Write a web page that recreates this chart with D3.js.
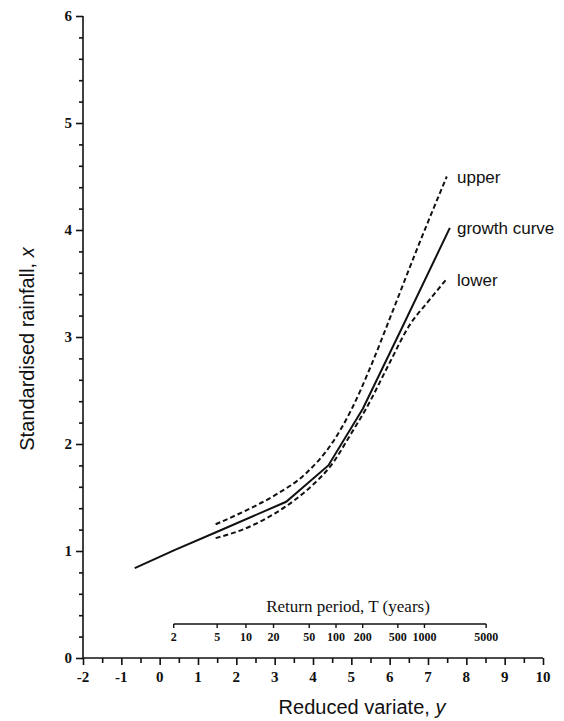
<!DOCTYPE html>
<html lang="en">
<head>
    <meta charset="UTF-8">
    <title>Rainfall growth curve</title>
    <script src="https://d3js.org/d3.v7.min.js"></script>
    <style>
        body { margin: 0; background: #ffffff; }
        svg { display: block; }
        .tick-lab { font-family: 'Liberation Serif', serif; font-weight: bold; font-size: 15px; fill: #111; }
        .rp-lab { font-family: 'Liberation Serif', serif; font-weight: bold; font-size: 12px; fill: #111; }
        .sans { font-family: 'Liberation Sans', Arial, sans-serif; fill: #111; }
    </style>
</head>
<body>
<div id="chart"></div>
<script>
    // reduced variate (x) and standardised rainfall values
    const growthY = [-0.65, 0.4, 1.5, 3.3, 4.4, 5.3, 6.3, 7.57];
    const growthX = [0.84, 1.01, 1.18, 1.46, 1.80, 2.33, 3.07, 4.02];

    const upperY = [1.46, 2.2, 3.0, 3.8, 4.5, 5.0, 5.5, 6.0, 6.7, 7.49];
    const upperX = [1.25, 1.37, 1.52, 1.72, 2.01, 2.32, 2.72, 3.17, 3.81, 4.50];

    const lowerY = [1.46, 2.3, 3.0, 3.5, 4.0, 4.45, 5.0, 5.4, 6.0, 6.5, 7.0, 7.46];
    const lowerX = [1.12, 1.22, 1.35, 1.47, 1.62, 1.79, 2.10, 2.34, 2.76, 3.10, 3.33, 3.53];

    const returnPeriods = [2, 5, 10, 20, 50, 100, 200, 500, 1000, 5000];
    const curveLabels = ["upper", "growth curve", "lower"];

    const W = 564, H = 721;
    const svg = d3.select("#chart").append("svg")
        .attr("width", W).attr("height", H);

    const x = d3.scaleLinear().domain([-2, 10]).range([83, 543]);
    const y = d3.scaleLinear().domain([0, 6]).range([658, 16]);

    // y axis: major ticks at integers, minor every 0.2
    const yAxis = svg.append("g").attr("transform", `translate(${x(-2)},0)`);
    yAxis.call(d3.axisLeft(y).tickValues(d3.range(0, 6.01, 0.2)).tickSize(4).tickFormat(""));
    yAxis.call(g => g.selectAll(".tick").filter(d => Math.abs(d - Math.round(d)) < 1e-6)
        .select("line").attr("x2", -7));
    yAxis.selectAll("path, line").attr("stroke", "#111").attr("stroke-width", 1.6);
    yAxis.select(".domain").attr("d", `M0,${y(0)}V${y(6)}`);
    svg.append("g").selectAll("text")
        .data(d3.range(0, 7))
        .join("text")
        .attr("class", "tick-lab")
        .attr("x", x(-2) - 11)
        .attr("y", d => y(d) + 5)
        .attr("text-anchor", "end")
        .text(d => d);

    // x axis: ticks every 0.5, longer at integers
    const xAxis = svg.append("g").attr("transform", `translate(0,${y(0)})`);
    xAxis.call(d3.axisBottom(x).tickValues(d3.range(-2, 10.01, 0.5)).tickSize(5).tickFormat(""));
    xAxis.call(g => g.selectAll(".tick").filter(d => Math.abs(d - Math.round(d)) < 1e-6)
        .select("line").attr("y2", 7));
    xAxis.selectAll("path, line").attr("stroke", "#111").attr("stroke-width", 1.6);
    xAxis.select(".domain").attr("d", `M${x(-2)},0H${x(10)}`);
    svg.append("g").selectAll("text")
        .data(d3.range(-2, 11))
        .join("text")
        .attr("class", "tick-lab")
        .attr("x", d => x(d))
        .attr("y", y(0) + 24)
        .attr("text-anchor", "middle")
        .text(d => d);

    // return period scale (Gumbel reduced variate)
    const gumbel = T => -Math.log(-Math.log(1 - 1 / T));
    const rpY = 624;
    svg.append("line")
        .attr("x1", x(gumbel(2))).attr("x2", x(gumbel(5000)))
        .attr("y1", rpY).attr("y2", rpY)
        .attr("stroke", "#111").attr("stroke-width", 1.4);
    svg.append("g").selectAll("line")
        .data(returnPeriods)
        .join("line")
        .attr("x1", d => x(gumbel(d))).attr("x2", d => x(gumbel(d)))
        .attr("y1", rpY).attr("y2", rpY + 4)
        .attr("stroke", "#111").attr("stroke-width", 1.4);
    svg.append("g").selectAll("text")
        .data(returnPeriods)
        .join("text")
        .attr("class", "rp-lab")
        .attr("x", d => x(gumbel(d)))
        .attr("y", rpY + 17)
        .attr("text-anchor", "middle")
        .text(d => d);
    svg.append("text")
        .attr("x", 348).attr("y", 612)
        .attr("text-anchor", "middle")
        .style("font-family", "'Liberation Serif', serif")
        .style("font-size", "17px")
        .attr("fill", "#111")
        .text("Return period, T (years)");

    // axis titles
    const xt = svg.append("text").attr("class", "sans")
        .attr("x", 362).attr("y", 714)
        .attr("text-anchor", "middle")
        .style("font-size", "20px");
    xt.append("tspan").text("Reduced variate, ");
    xt.append("tspan").style("font-style", "italic").text("y");

    const yt = svg.append("text").attr("class", "sans")
        .attr("transform", "translate(34,349) rotate(-90)")
        .attr("text-anchor", "middle")
        .style("font-size", "20px");
    yt.append("tspan").text("Standardised rainfall, ");
    yt.append("tspan").style("font-style", "italic").text("x");

    // curves
    const toPts = (xs, vs) => xs.map((v, i) => [v, vs[i]]);
    const lineLin = d3.line().x(d => x(d[0])).y(d => y(d[1]));
    const lineSmooth = d3.line().x(d => x(d[0])).y(d => y(d[1])).curve(d3.curveMonotoneX);

    svg.append("path")
        .datum(toPts(growthY, growthX))
        .attr("d", lineLin)
        .attr("fill", "none").attr("stroke", "#111").attr("stroke-width", 2);

    [toPts(upperY, upperX), toPts(lowerY, lowerX)].forEach(pts => {
        svg.append("path")
            .datum(pts)
            .attr("d", lineSmooth)
            .attr("fill", "none").attr("stroke", "#111")
            .attr("stroke-width", 2)
            .attr("stroke-dasharray", "5,3");
    });

    // curve labels at the line ends
    const ends = [upperX[upperX.length - 1], growthX[growthX.length - 1], lowerX[lowerX.length - 1]];
    svg.append("g").selectAll("text")
        .data(curveLabels)
        .join("text")
        .attr("class", "sans")
        .attr("x", 457)
        .attr("y", (d, i) => y(ends[i]) + 6)
        .style("font-size", "17px")
        .text(d => d);
</script>
</body>
</html>
